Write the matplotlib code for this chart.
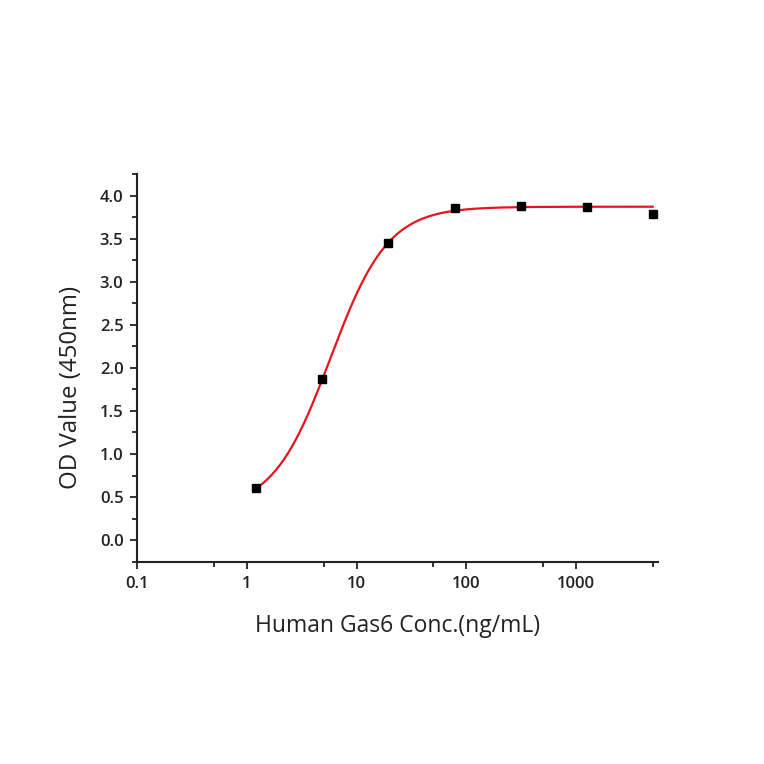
import numpy as np
import matplotlib
matplotlib.use("Agg")
import matplotlib.pyplot as plt
from matplotlib.ticker import FixedLocator, FixedFormatter, FormatStrFormatter

# measured points (4-fold dilution series)
conc = [1.22, 4.88, 19.5, 78.1, 312.5, 1250, 5000]
od = [0.60, 1.87, 3.45, 3.86, 3.88, 3.87, 3.79]

# 4PL fit parameters
fit_bottom, fit_top, fit_ec50, fit_hill = 0.35, 3.87, 5.76, 1.65

x_major = [0.1, 1, 10, 100, 1000]
x_major_labels = ["0.1", "1", "10", "100", "1000"]
x_minor = [0.5, 5, 50, 500, 5000]
y_major = [0.0, 0.5, 1.0, 1.5, 2.0, 2.5, 3.0, 3.5, 4.0]

plt.rcParams["font.family"] = ["Open Sans", "DejaVu Sans"]

fig = plt.figure(figsize=(7.64, 7.64), dpi=100)
ax = fig.add_axes([0.1797, 0.2648, 0.6816, 0.5075])

xs = np.logspace(np.log10(conc[0]), np.log10(conc[-1]), 300)
ys = fit_top + (fit_bottom - fit_top) / (1 + (xs / fit_ec50) ** fit_hill)
ax.plot(xs, ys, color="#e8141c", lw=1.6, zorder=2)
ax.plot(conc, od, ls="none", marker="s", ms=6, color="black", zorder=3)

ax.set_xscale("log")
ax.set_xlim(0.1, 5600)
ax.set_ylim(-0.25, 4.25)

ax.xaxis.set_major_locator(FixedLocator(x_major))
ax.xaxis.set_major_formatter(FixedFormatter(x_major_labels))
ax.xaxis.set_minor_locator(FixedLocator(x_minor))
ax.xaxis.set_minor_formatter(FixedFormatter([""] * len(x_minor)))
ax.yaxis.set_major_locator(FixedLocator(y_major))
ax.yaxis.set_minor_locator(FixedLocator(np.arange(-0.25, 4.26, 0.25)))
ax.yaxis.set_major_formatter(FormatStrFormatter("%.1f"))

for s in ["top", "right"]:
    ax.spines[s].set_visible(False)
for s in ["left", "bottom"]:
    ax.spines[s].set_linewidth(1.5)
    ax.spines[s].set_color("#222222")

ax.tick_params(which="major", direction="out", length=5, width=1.3, colors="#222222",
               labelsize=12, pad=5)
ax.tick_params(which="minor", direction="out", length=3.5, width=1.3, colors="#222222")
for lab in ax.get_xticklabels() + ax.get_yticklabels():
    lab.set_fontweight("semibold")

ax.set_xlabel("Human Gas6 Conc.(ng/mL)", fontsize=16.5, color="#222222", labelpad=16)
ax.set_ylabel("OD Value (450nm)", fontsize=17.3, color="#222222")
ax.yaxis.set_label_coords(-0.104, 0.45)

fig.savefig("out.png", dpi=100)
